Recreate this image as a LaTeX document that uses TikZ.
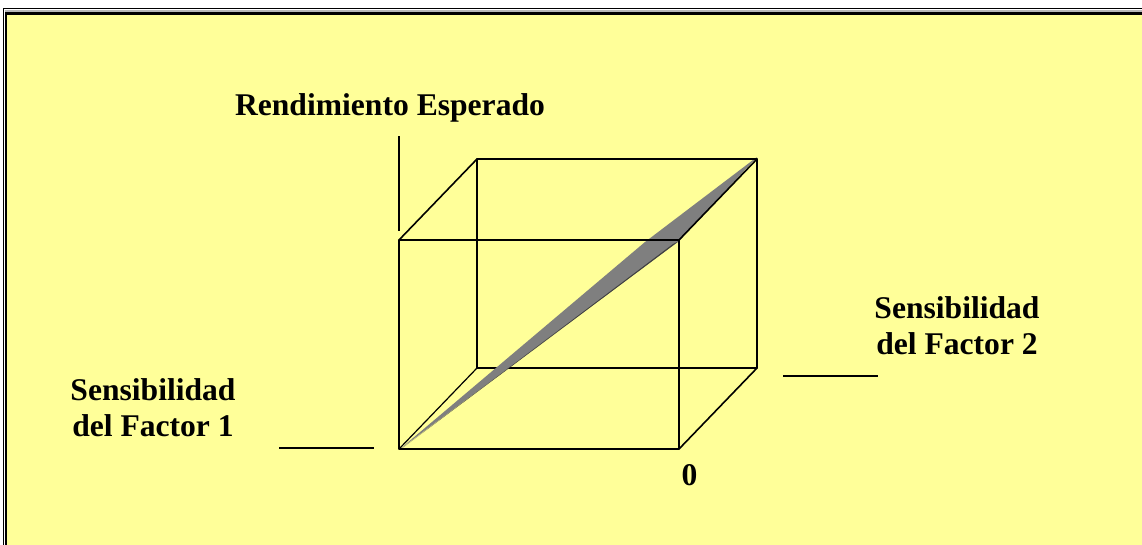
\documentclass[tikz,border=0pt]{standalone}
\usepackage{fontspec}
\setmainfont{Liberation Serif}
\definecolor{bgyellow}{HTML}{FFFF99}
\definecolor{planegray}{HTML}{7F7F7F}
\definecolor{planedark}{HTML}{404040}
\tikzset{
  edge/.style={line width=1.6pt, line cap=round, line join=round},
  axisline/.style={line width=1.8pt},
  lbl/.style={font=\fontsize{31.6}{36}\selectfont\bfseries, inner sep=0pt, align=center, anchor=base},
}
\begin{document}
\begin{tikzpicture}[x=1pt,y=-1pt]
\useasboundingbox (0,0) rectangle (1142,544);
\fill[white] (0,0) rectangle (1142,544);
% frame
\fill[bgyellow] (7,15) rectangle (1145,548);
\draw[line width=1.2pt] (3.5,548) -- (3.5,8.5) -- (1145,8.5);
\draw[line width=2pt, gray!55] (4.5,10.5) -- (1145,10.5);
\draw[line width=2.5pt] (6,548) -- (6,13.5) -- (1145,13.5);
% cube corners
\coordinate (fbl) at (399,449);
\coordinate (fbr) at (679,449);
\coordinate (ftl) at (399,240);
\coordinate (ftr) at (679,240);
\coordinate (bbl) at (477,368);
\coordinate (bbr) at (757,368);
\coordinate (btl) at (477,159);
\coordinate (btr) at (757,159);
% back (hidden) edges
\draw[edge, line width=1.2pt] (fbl) -- (bbl);
\draw[edge] (bbl) -- (btl);
\draw[edge] (bbl) -- (bbr);
% plane
\fill[planegray] (400,449) -- (645,242) -- (757,157) -- (679,241) -- cycle;
\fill[planedark] (401,449) -- (679,241) -- (673,244) -- cycle;
% visible edges
\draw[edge] (ftl) -- (btl) -- (btr) -- (ftr) -- cycle;
\draw[edge] (ftl) -- (fbl) -- (fbr) -- (ftr);
\draw[edge] (btr) -- (bbr) -- (fbr);
% axis lines
\coordinate (ya) at (399,136);
\coordinate (yb) at (399,231);
\coordinate (xa) at (279,448);
\coordinate (xb) at (374,448);
\coordinate (za) at (783,376);
\coordinate (zb) at (878,376);
\draw[axisline] (ya) -- (yb);
\draw[axisline] (xa) -- (xb);
\draw[axisline] (za) -- (zb);
% labels
\node[lbl] (rend) at (390,115) {Rendimiento Esperado};
\node[lbl] (f1) at (153,436) {Sensibilidad\\del Factor 1};
\node[lbl] (f2) at (957,354) {Sensibilidad\\del Factor 2};
\node[lbl] (zero) at (689.5,485) {0};
\end{tikzpicture}
\end{document}
